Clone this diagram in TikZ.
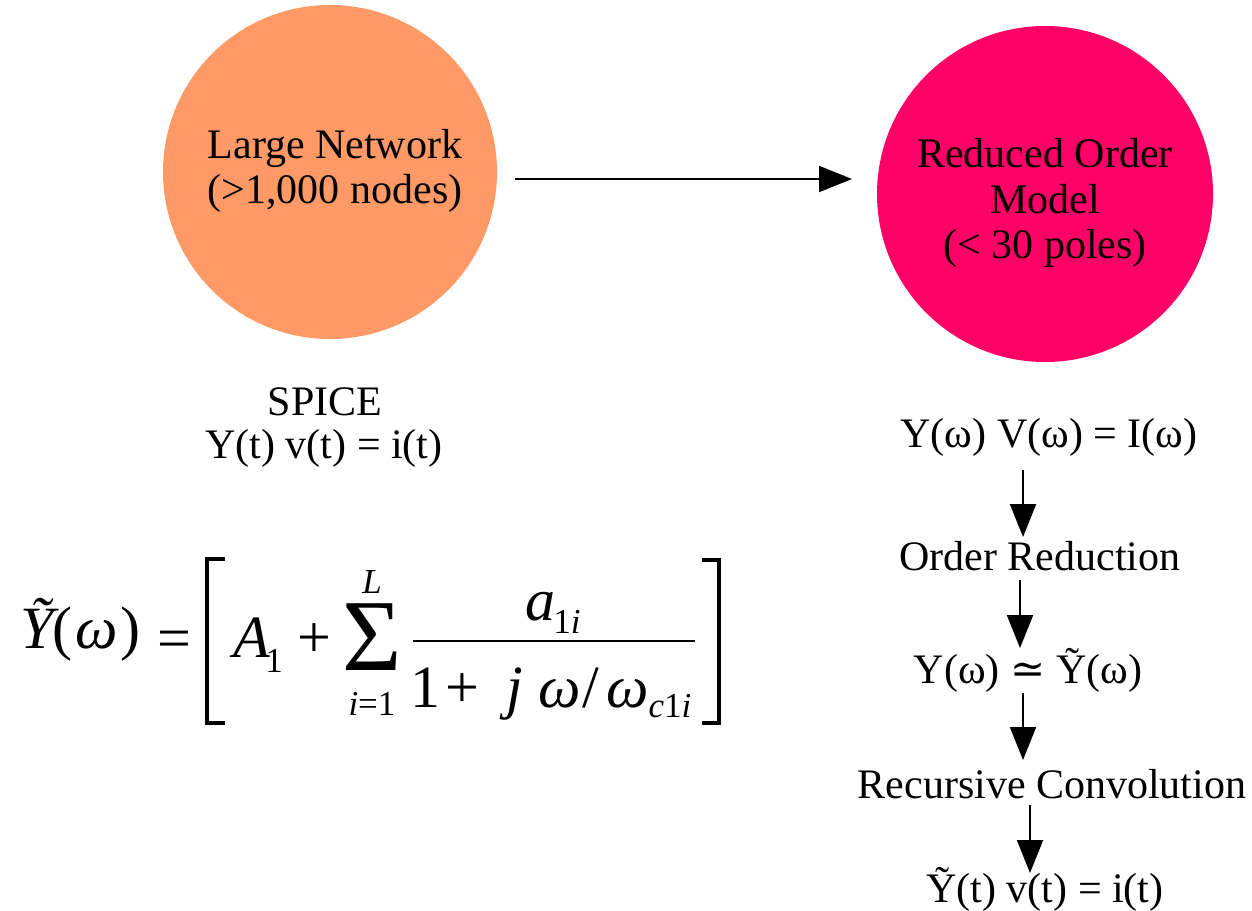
\documentclass[tikz,border=0pt]{standalone}
\usepackage{fontspec}
\setmainfont{Liberation Serif}
\newfontfamily\dvs{DejaVu Serif}
\usetikzlibrary{arrows.meta}
\definecolor{orangefill}{HTML}{FF9966}
\definecolor{pinkfill}{HTML}{FF0066}
\tikzset{
 lbl/.style={font=\fontsize{21}{25}\selectfont, inner sep=0, anchor=base},
 ebig/.style={font=\fontsize{30}{36}\selectfont, inner sep=0, anchor=base},
 ebigi/.style={font=\fontsize{30}{36}\selectfont\itshape, inner sep=0, anchor=base},
 esub/.style={font=\fontsize{17.5}{20}\selectfont, inner sep=0, anchor=base},
 esubi/.style={font=\fontsize{17.5}{20}\selectfont\itshape, inner sep=0, anchor=base},
 flow/.style={line width=1pt, -{Triangle[length=16.5pt,width=13pt]}},
 brk/.style={line width=1.7pt},
}
\begin{document}
\begin{tikzpicture}[x=0.5pt,y=-0.5pt]
\useasboundingbox (0,0) rectangle (1252,910);
% circles
\node[circle, fill=orangefill, minimum size=167pt, inner sep=0] (big) at (330,172) {};
\node[circle, fill=pinkfill, minimum size=168pt, inner sep=0] (rom) at (1045,194) {};
\node[lbl] (bigt1) at (335,158) {Large Network};
\node[lbl] (bigt2) at (335,203) {(>1,000 nodes)};
\node[lbl] (romt1) at (1045,167) {Reduced Order};
\node[lbl] (romt2) at (1045,213) {Model};
\node[lbl] (romt3) at (1045,258) {(< 30 poles)};
\coordinate (h1) at (515,179);
\coordinate (h2) at (852,179);
\draw[flow] (h1) -- (h2);
% SPICE
\node[lbl] (spice) at (325,415) {SPICE};
\node[lbl] (spiceeq) at (324,458) {Y(t) v(t) = i(t)};
% right column
\node[lbl] (r1) at (1049,447) {Y(ω) V(ω) = I(ω)};
\node[lbl] (r2) at (1040,570) {Order Reduction};
\node[lbl] (r3) at (1028,683) {Y(ω) {\dvs ≃} Ỹ(ω)};
\node[lbl] (r4) at (1052,798) {Recursive Convolution};
\node[lbl] (r5) at (1045,902) {Ỹ(t) v(t) = i(t)};
\coordinate (a1s) at (1023,470); \coordinate (a1e) at (1023,537);
\coordinate (a2s) at (1020,580); \coordinate (a2e) at (1020,648);
\coordinate (a3s) at (1023,693); \coordinate (a3e) at (1023,760);
\coordinate (a4s) at (1030,805); \coordinate (a4e) at (1030,873);
\draw[flow] (a1s) -- (a1e);
\draw[flow] (a2s) -- (a2e);
\draw[flow] (a3s) -- (a3e);
\draw[flow] (a4s) -- (a4e);
% equation
\node[ebigi] (eY) at (37,648) {Ỹ};
\node[ebig] (eLp) at (62,648) {(};
\node[ebigi] (eW) at (97,648) {ω};
\node[ebig] (eRp) at (130,648) {)};
\node[ebig] (eEq) at (174,658) {=};
\draw[brk] (225,559) -- (207,559) -- (207,723) -- (225,723);
\draw[brk] (702,560) -- (719,560) -- (719,723) -- (702,723);
\node[ebigi] (eA) at (252,657) {A};
\node[esub] (eA1) at (274,672) {1};
\node[ebig] (ePlus) at (314,657) {+};
\node[font=\fontsize{51}{60}\selectfont, inner sep=0, anchor=base] (eSum) at (372,670) {Σ};
\node[esubi] (eSumU) at (372,593) {L};
\node[esub] (eSumL) at (372,715) {{\itshape i}=1};
\node[ebigi] (eNa) at (540,620) {a};
\node[esub] (eNa1) at (567,633) {1{\itshape i}};
\draw[line width=1pt] (413,641) -- (695,641);
\node[ebig] (eD1) at (425,707) {1};
\node[ebig] (eDp) at (462,707) {+};
\node[ebigi] (eDj) at (515,707) {j};
\node[ebigi] (eDw) at (560,707) {ω};
\node[ebig] (eDs) at (591,707) {/};
\node[ebigi] (eDw2) at (628,707) {ω};
\node[esub] (eDsub) at (670,717) {{\itshape c}1{\itshape i}};
\end{tikzpicture}
\end{document}
